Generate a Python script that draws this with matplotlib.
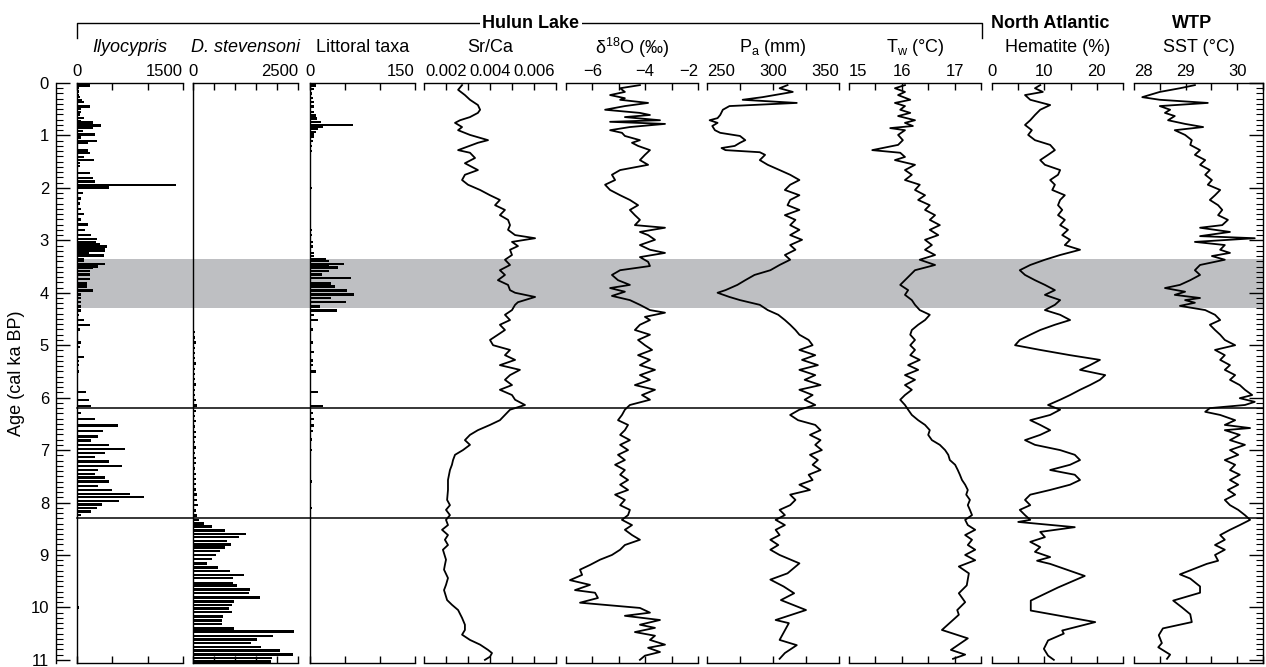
import numpy as np
import matplotlib
matplotlib.use("Agg")
import matplotlib.pyplot as plt
from matplotlib.lines import Line2D

plt.rcParams['font.family'] = ['Liberation Sans', 'DejaVu Sans']
plt.rcParams['mathtext.fontset'] = 'custom'
plt.rcParams['mathtext.rm'] = 'Liberation Sans'
plt.rcParams['mathtext.it'] = 'Liberation Sans:italic'

# ---------------- data ----------------
# ostracod counts (bars)
ily_age = [0.05, 0.10, 0.16, 0.23, 0.27, 0.32, 0.36, 0.45, 0.50, 0.55, 0.60, 0.67, 0.72, 0.75,
           0.81, 0.85, 0.92, 0.98, 1.04, 1.10, 1.15, 1.29, 1.33, 1.41, 1.47, 1.53, 1.58, 1.66,
           1.72, 1.81, 1.88, 1.94, 1.99, 2.10, 2.20, 2.30, 2.40, 2.50, 2.60, 2.70, 2.80, 2.90,
           2.97, 3.03, 3.07, 3.12, 3.17, 3.20, 3.23, 3.29, 3.36, 3.39, 3.45, 3.50, 3.53, 3.58,
           3.65, 3.74, 3.82, 3.88, 3.96, 4.03, 4.10, 4.18, 4.26, 4.34, 4.42, 4.52, 4.61, 4.70,
           4.95, 5.03, 5.22, 5.30, 5.38, 5.50, 5.89, 6.04, 6.16, 6.29, 6.41, 6.53, 6.63, 6.74,
           6.82, 6.90, 6.98, 7.05, 7.13, 7.22, 7.30, 7.38, 7.45, 7.52, 7.60, 7.68, 7.76, 7.84,
           7.90, 7.97, 8.04, 8.10, 8.17, 8.24, 9.20, 10.00, 10.10, 10.50]
ily_val = [180, 25, 25, 25, 40, 70, 100, 180, 60, 60, 40, 100, 60, 230,
           340, 230, 80, 250, 60, 290, 160, 160, 180, 100, 240, 40, 40, 20,
           180, 220, 250, 1400, 450, 80, 50, 40, 60, 100, 60, 150, 110, 200,
           280, 270, 320, 420, 390, 390, 170, 375, 100, 100, 390, 300, 220, 180,
           180, 180, 140, 140, 230, 60, 60, 60, 50, 60, 30, 100, 180, 40,
           60, 40, 100, 30, 30, 30, 130, 170, 200, 60, 260, 580, 370, 300,
           200, 450, 680, 400, 250, 450, 630, 300, 250, 400, 450, 300, 500, 750,
           950, 600, 350, 280, 200, 60, 20, 25, 20, 20]

dst_age = [4.75, 4.85, 4.95, 5.05, 5.15, 5.25, 5.35, 5.45, 5.55, 5.65, 5.75, 5.85, 5.95, 6.05,
           6.15, 6.25, 6.35, 6.45, 6.55, 6.65, 6.75, 6.85, 6.95, 7.05, 7.15, 7.25, 7.35, 7.45,
           7.55, 7.65, 7.75, 7.85, 7.95, 8.05, 8.15, 8.25,
           8.33, 8.40, 8.46, 8.53, 8.60, 8.66, 8.73, 8.80, 8.86, 8.93, 9.00, 9.08, 9.16, 9.24,
           9.30, 9.38, 9.44, 9.53, 9.58, 9.66, 9.73, 9.81, 9.89, 9.96, 10.02, 10.09, 10.17,
           10.25, 10.32, 10.40, 10.46, 10.54, 10.61, 10.68, 10.76, 10.82, 10.90, 10.97, 11.03]
dst_val = [50, 40, 60, 40, 50, 40, 60, 40, 50, 40, 80, 50, 40, 60,
           90, 70, 50, 60, 50, 70, 60, 50, 60, 50, 70, 60, 50, 70,
           60, 80, 70, 100, 90, 120, 80, 100,
           150, 250, 450, 750, 1250, 1100, 800, 900, 750, 650, 550, 450, 330, 600,
           880, 1210, 950, 950, 1050, 1360, 1330, 1600, 980, 930, 860, 930, 710,
           690, 690, 980, 2400, 1900, 1520, 1380, 1620, 2070, 2380, 1880, 1860]

lit_age = [0.05, 0.12, 0.20, 0.28, 0.36, 0.45, 0.55, 0.62, 0.68, 0.74, 0.80, 0.84, 0.88, 0.93,
           0.98, 1.03, 1.10, 1.20, 1.30, 1.50, 2.00, 2.50, 2.80, 2.90, 3.03, 3.12, 3.24, 3.30,
           3.36, 3.40, 3.45, 3.48, 3.52, 3.58, 3.65, 3.72, 3.82, 3.88, 3.96, 4.03, 4.10, 4.18,
           4.26, 4.34, 4.42, 4.52, 4.70, 4.95, 5.13, 5.29, 5.38, 5.50, 5.89, 6.16, 6.29, 6.41,
           6.53, 6.63, 6.80, 7.00, 7.30, 7.60, 7.90, 8.10]
lit_val = [8, 5, 3, 4, 5, 5, 6, 8, 10, 15, 62, 18, 12, 8,
           6, 5, 4, 3, 3, 2, 3, 2, 3, 3, 4, 4, 6, 6,
           23, 27, 49, 27, 40, 27, 17, 58, 30, 36, 53, 63, 30, 51,
           14, 39, 6, 11, 4, 4, 6, 4, 4, 8, 11, 19, 4, 5,
           5, 4, 3, 3, 2, 3, 2, 3]

# Sr/Ca (x1e-3)
sr_age = [0.04, 0.13, 0.23, 0.32, 0.42, 0.51, 0.57, 0.65, 0.71, 0.76, 0.84, 0.90, 0.99, 1.09,
          1.14, 1.28, 1.33, 1.43, 1.53, 1.66, 1.75, 1.85, 1.94, 2.04, 2.14, 2.23, 2.33, 2.42,
          2.52, 2.61, 2.71, 2.80, 2.90, 2.96, 3.03, 3.11, 3.18, 3.28, 3.37, 3.47, 3.57, 3.66,
          3.76, 3.85, 3.95, 4.00, 4.08, 4.18, 4.23, 4.33, 4.42, 4.52, 4.61, 4.71, 4.80, 4.90,
          5.00, 5.09, 5.19, 5.28, 5.38, 5.47, 5.57, 5.66, 5.76, 5.85, 5.95, 6.04, 6.14, 6.23,
          6.33, 6.43, 6.52, 6.62, 6.71, 6.81, 6.90, 7.00, 7.09, 7.19, 7.28, 7.38, 7.57, 7.76,
          7.95, 8.05, 8.14, 8.24, 8.33, 8.43, 8.52, 8.62, 8.71, 8.81, 8.90, 9.09, 9.19, 9.28,
          9.44, 9.57, 9.67, 9.86, 9.95, 10.05, 10.20, 10.33, 10.43, 10.52, 10.62, 10.71, 10.81,
          10.87, 10.94, 11.00]
sr_val = [2.73, 2.55, 2.86, 3.09, 3.45, 3.55, 3.45, 3.09, 2.64, 2.41, 2.73, 2.55, 3.09, 3.91,
          3.45, 2.55, 3.09, 3.32, 2.86, 3.45, 2.86, 2.73, 3.00, 3.55, 4.00, 4.45, 4.23, 4.68,
          4.45, 4.82, 4.91, 4.82, 5.14, 6.05, 5.00, 5.27, 4.91, 5.00, 4.68, 4.91, 4.45, 4.68,
          4.36, 4.82, 4.91, 5.14, 6.05, 5.27, 5.14, 5.00, 4.68, 4.91, 4.45, 4.68, 4.36, 4.00,
          4.14, 4.91, 4.68, 5.14, 4.45, 5.36, 4.91, 4.68, 5.00, 4.45, 5.00, 5.14, 5.59, 4.91,
          4.68, 4.45, 4.00, 3.45, 3.09, 2.86, 3.09, 2.77, 2.41, 2.32, 2.27, 2.18, 2.09, 2.09,
          2.05, 2.18, 2.00, 2.18, 2.00, 2.09, 1.82, 2.09, 1.95, 2.09, 1.86, 2.00, 1.95, 1.91,
          2.09, 2.00, 1.91, 2.05, 2.27, 2.55, 2.73, 2.86, 2.86, 2.73, 3.09, 3.55, 3.91,
          4.09, 4.00, 3.77]

# d18O (permil)
d18_age = [0.04, 0.10, 0.17, 0.23, 0.29, 0.32, 0.38, 0.44, 0.51, 0.57, 0.61, 0.65, 0.71, 0.74,
           0.78, 0.84, 0.90, 0.95, 1.01, 1.09, 1.14, 1.20, 1.28, 1.37, 1.47, 1.56, 1.66, 1.75,
           1.85, 1.94, 2.04, 2.14, 2.23, 2.33, 2.42, 2.52, 2.61, 2.71, 2.76, 2.84, 2.90, 2.99,
           3.09, 3.18, 3.24, 3.32, 3.41, 3.49, 3.57, 3.66, 3.76, 3.85, 3.91, 3.98, 4.06, 4.14,
           4.23, 4.33, 4.38, 4.46, 4.52, 4.61, 4.71, 4.80, 4.90, 5.00, 5.09, 5.19, 5.28, 5.38,
           5.47, 5.57, 5.66, 5.76, 5.85, 5.95, 6.04, 6.14, 6.23, 6.33, 6.43, 6.52, 6.62, 6.71,
           6.81, 6.90, 7.00, 7.09, 7.19, 7.28, 7.38, 7.47, 7.57, 7.66, 7.76, 7.85, 7.95, 8.05,
           8.14, 8.24, 8.33, 8.43, 8.52, 8.62, 8.71, 8.81, 8.90, 9.00, 9.09, 9.19, 9.28, 9.38,
           9.48, 9.57, 9.67, 9.72, 9.82, 9.91, 10.01, 10.10, 10.16, 10.24, 10.33, 10.39, 10.47,
           10.54, 10.62, 10.71, 10.77, 10.85, 10.92, 11.00]
d18_val = [-4.20, -4.95, -4.77, -5.33, -4.77, -4.95, -3.89, -4.77, -5.52, -4.20, -3.82, -4.77, -3.44, -5.33,
           -3.25, -4.58, -5.33, -4.88, -4.77, -4.20, -4.50, -4.27, -3.82, -4.01, -4.20, -3.89, -4.95, -5.26,
           -5.14, -5.52, -5.33, -4.95, -4.58, -4.27, -4.58, -4.39, -4.20, -4.39, -3.25, -4.20, -3.89, -3.63,
           -4.20, -3.82, -3.25, -4.20, -3.89, -3.82, -4.95, -5.26, -5.03, -4.58, -5.33, -4.77, -5.26, -4.58,
           -4.20, -3.82, -3.25, -4.01, -3.82, -4.20, -4.39, -3.82, -4.27, -4.01, -3.74, -4.27, -3.82, -4.20,
           -3.63, -4.20, -3.82, -4.39, -3.63, -4.12, -3.82, -4.58, -4.77, -4.88, -5.03, -4.65, -4.77, -4.95,
           -4.58, -4.95, -4.65, -5.03, -4.77, -5.14, -4.77, -4.95, -4.65, -4.95, -4.65, -5.14, -4.77, -4.95,
           -4.58, -4.65, -4.88, -4.50, -4.77, -4.50, -4.20, -4.77, -4.95, -5.26, -5.71, -6.09, -6.47, -6.39,
           -6.85, -6.09, -6.66, -5.90, -5.79, -6.47, -4.20, -3.82, -4.77, -3.44, -4.20, -3.63, -4.39,
           -3.63, -3.82, -3.25, -3.89, -3.44, -4.01, -4.20]

# annual precipitation (mm)
pa_age = [0.04, 0.10, 0.17, 0.27, 0.32, 0.38, 0.44, 0.51, 0.61, 0.67, 0.71, 0.76, 0.82, 0.90,
          0.95, 1.01, 1.09, 1.14, 1.20, 1.24, 1.28, 1.32, 1.37, 1.47, 1.56, 1.66, 1.75, 1.85,
          1.94, 2.04, 2.14, 2.23, 2.33, 2.42, 2.52, 2.61, 2.71, 2.80, 2.90, 2.99, 3.09, 3.18,
          3.28, 3.37, 3.47, 3.57, 3.66, 3.76, 3.85, 3.95, 4.00, 4.08, 4.14, 4.23, 4.33, 4.42,
          4.52, 4.61, 4.71, 4.80, 4.90, 5.00, 5.09, 5.19, 5.28, 5.38, 5.47, 5.57, 5.66, 5.76,
          5.85, 5.95, 6.04, 6.14, 6.23, 6.33, 6.43, 6.52, 6.62, 6.71, 6.81, 6.90, 7.00, 7.09,
          7.19, 7.28, 7.38, 7.47, 7.57, 7.66, 7.76, 7.85, 7.95, 8.05, 8.14, 8.24, 8.33, 8.43,
          8.52, 8.62, 8.71, 8.81, 8.90, 9.00, 9.16, 9.35, 9.47, 9.60, 9.73, 9.86, 10.05, 10.24,
          10.30, 10.62, 10.72, 10.87, 10.98]
pa_val = [311, 305, 315, 292, 277, 318, 267, 262, 260, 258, 252, 258, 254, 256,
          260, 275, 279, 275, 271, 261, 264, 290, 294, 290, 296, 305, 313, 320,
          313, 309, 320, 313, 311, 320, 309, 317, 313, 320, 313, 322, 313, 317,
          309, 313, 305, 298, 286, 279, 273, 264, 258, 267, 275, 290, 296, 304,
          309, 313, 317, 320, 327, 330, 320, 332, 322, 334, 320, 332, 324, 336,
          320, 330, 324, 332, 320, 313, 319, 332, 336, 328, 336, 332, 337, 328,
          334, 330, 336, 327, 330, 320, 328, 313, 317, 313, 305, 309, 302, 309,
          302, 305, 298, 304, 298, 305, 320, 311, 298, 308, 316, 306, 325, 302,
          312, 305, 318, 309, 305]

# lake water temperature (deg C)
tw_age = [0.04, 0.10, 0.17, 0.23, 0.32, 0.38, 0.44, 0.51, 0.57, 0.63, 0.71, 0.76, 0.82, 0.86,
          0.90, 0.99, 1.09, 1.18, 1.28, 1.33, 1.41, 1.47, 1.56, 1.66, 1.75, 1.85, 1.94, 2.04,
          2.14, 2.23, 2.33, 2.42, 2.52, 2.61, 2.71, 2.80, 2.90, 2.99, 3.09, 3.18, 3.28, 3.37,
          3.47, 3.57, 3.66, 3.76, 3.85, 3.95, 4.04, 4.14, 4.23, 4.33, 4.42, 4.52, 4.61, 4.71,
          4.80, 4.90, 5.00, 5.09, 5.19, 5.28, 5.38, 5.47, 5.57, 5.66, 5.76, 5.85, 5.95, 6.04,
          6.14, 6.23, 6.33, 6.43, 6.52, 6.62, 6.71, 6.81, 6.90, 7.00, 7.09, 7.19, 7.28, 7.38,
          7.47, 7.57, 7.66, 7.76, 7.85, 7.95, 8.05, 8.14, 8.24, 8.33, 8.43, 8.52, 8.62, 8.71,
          8.81, 8.90, 9.00, 9.10, 9.22, 9.35, 9.58, 9.73, 9.90, 10.05, 10.14, 10.43, 10.59,
          10.81, 10.90, 10.98]
tw_val = [16.06, 15.87, 16.06, 15.93, 16.16, 15.87, 16.06, 15.97, 16.16, 15.93, 16.25, 16.06, 16.21, 15.78,
          16.06, 15.93, 16.02, 15.93, 15.44, 15.97, 16.06, 15.87, 16.25, 16.06, 16.19, 16.06, 16.34, 16.25,
          16.44, 16.31, 16.53, 16.44, 16.63, 16.53, 16.72, 16.53, 16.69, 16.44, 16.57, 16.44, 16.63, 16.34,
          16.63, 16.25, 16.16, 16.06, 15.97, 16.12, 16.06, 16.19, 16.25, 16.34, 16.53, 16.44, 16.31, 16.19,
          16.16, 16.25, 16.16, 16.25, 16.16, 16.34, 16.12, 16.31, 16.06, 16.25, 16.06, 16.19, 16.06, 15.97,
          16.06, 16.12, 16.19, 16.31, 16.44, 16.53, 16.50, 16.57, 16.72, 16.82, 16.88, 16.91, 17.01, 17.06,
          17.10, 17.14, 17.20, 17.25, 17.22, 17.29, 17.25, 17.29, 17.33, 17.20, 17.25, 17.39, 17.20, 17.33,
          17.25, 17.39, 17.20, 17.39, 17.08, 17.27, 17.23, 17.08, 17.20, 17.05, 17.08, 16.76, 17.25,
          16.93, 17.20, 16.97]

# hematite-stained grains (%)
hem_age = [0.04, 0.10, 0.17, 0.23, 0.32, 0.42, 0.51, 0.61, 0.71, 0.80, 0.90, 0.99, 1.09, 1.18,
           1.28, 1.37, 1.47, 1.56, 1.66, 1.75, 1.85, 1.94, 2.04, 2.14, 2.23, 2.33, 2.42, 2.52,
           2.61, 2.71, 2.80, 2.90, 2.99, 3.09, 3.18, 3.28, 3.37, 3.47, 3.57, 3.66, 3.76, 3.85,
           3.95, 4.04, 4.14, 4.23, 4.33, 4.42, 4.52, 4.61, 4.71, 4.80, 4.90, 5.00, 5.09, 5.19,
           5.28, 5.38, 5.47, 5.57, 5.66, 5.76, 5.85, 5.95, 6.04, 6.14, 6.23, 6.33, 6.43, 6.52,
           6.62, 6.71, 6.81, 6.90, 7.00, 7.09, 7.19, 7.28, 7.38, 7.47, 7.57, 7.66, 7.76, 7.85,
           7.95, 8.05, 8.14, 8.24, 8.33, 8.37, 8.47, 8.56, 8.66, 8.75, 8.85, 8.94, 9.04, 9.11,
           9.17, 9.40, 9.62, 9.87, 10.06, 10.28, 10.44, 10.50, 10.63, 10.79, 10.92, 11.00]
hem_val = [9.2, 8.2, 9.7, 6.3, 7.3, 11.1, 9.2, 8.2, 7.3, 6.3, 7.6, 6.9, 8.2, 11.1,
           12.0, 10.7, 9.2, 10.1, 13.0, 12.6, 11.1, 12.0, 11.5, 13.9, 13.0, 12.6, 13.4, 12.6,
           13.9, 13.0, 14.5, 13.4, 14.9, 13.9, 16.8, 13.0, 10.1, 7.3, 5.3, 6.3, 8.2, 10.1,
           12.0, 10.1, 13.0, 12.0, 10.1, 13.0, 14.9, 12.0, 9.2, 7.3, 5.3, 4.4, 9.2, 14.9,
           20.6, 18.7, 16.8, 21.6, 20.6, 18.7, 16.8, 14.9, 13.0, 10.7, 13.0, 11.1, 7.3, 9.2,
           11.1, 9.2, 6.3, 8.2, 13.0, 15.8, 16.8, 14.9, 11.1, 15.8, 16.8, 14.9, 11.1, 7.3,
           6.3, 7.3, 5.3, 6.3, 7.3, 5.0, 15.8, 9.2, 10.1, 7.3, 9.2, 8.2, 11.1, 8.6,
           11.1, 17.7, 12.6, 7.4, 7.4, 19.7, 13.4, 13.7, 10.7, 9.9, 10.7, 11.8]

# WTP sea surface temperature (deg C)
sst_age = [0.04, 0.10, 0.17, 0.27, 0.32, 0.38, 0.44, 0.51, 0.57, 0.63, 0.71, 0.78, 0.84, 0.90,
           0.99, 1.09, 1.18, 1.28, 1.37, 1.47, 1.56, 1.66, 1.75, 1.85, 1.94, 2.04, 2.14, 2.23,
           2.33, 2.42, 2.52, 2.61, 2.71, 2.76, 2.84, 2.92, 2.96, 3.03, 3.09, 3.18, 3.24, 3.30,
           3.37, 3.47, 3.57, 3.66, 3.76, 3.85, 3.91, 3.98, 4.04, 4.10, 4.14, 4.19, 4.25, 4.33,
           4.42, 4.52, 4.61, 4.71, 4.80, 4.90, 5.00, 5.09, 5.19, 5.28, 5.38, 5.47, 5.57, 5.66,
           5.76, 5.85, 5.95, 6.01, 6.08, 6.14, 6.20, 6.27, 6.33, 6.43, 6.52, 6.58, 6.62, 6.71,
           6.81, 6.90, 7.00, 7.09, 7.19, 7.28, 7.38, 7.47, 7.57, 7.66, 7.76, 7.85, 7.95, 8.05,
           8.14, 8.24, 8.33, 8.43, 8.52, 8.62, 8.71, 8.81, 8.90, 9.00, 9.11, 9.17, 9.37, 9.45,
           9.60, 9.72, 9.87, 10.00, 10.13, 10.28, 10.40, 10.53, 10.68, 10.76, 10.90, 10.98]
sst_val = [29.18, 28.89, 28.50, 28.16, 28.50, 29.43, 28.50, 28.70, 28.60, 28.79, 28.66, 28.99, 29.34, 28.79,
           28.99, 29.12, 29.09, 29.28, 29.18, 29.38, 29.28, 29.47, 29.38, 29.51, 29.43, 29.67, 29.57, 29.47,
           29.63, 29.71, 29.63, 29.82, 29.71, 29.28, 29.86, 29.28, 30.34, 29.18, 29.76, 29.67, 29.86, 29.51,
           29.76, 29.28, 29.18, 29.28, 29.09, 28.89, 28.60, 28.99, 28.79, 29.28, 28.99, 29.18, 28.89, 29.38,
           29.57, 29.67, 29.47, 29.57, 29.67, 29.76, 29.96, 29.57, 29.76, 29.67, 29.86, 29.76, 29.96, 29.86,
           30.05, 30.15, 30.29, 30.05, 30.34, 30.15, 29.47, 29.38, 29.67, 29.96, 29.76, 30.25, 29.76, 30.05,
           29.86, 30.15, 29.86, 30.02, 29.76, 29.96, 29.86, 30.05, 29.86, 30.02, 29.82, 29.96, 29.76, 29.86,
           30.02, 30.15, 30.25, 30.05, 29.86, 29.67, 29.76, 29.57, 29.76, 29.57, 29.63, 29.41, 28.89, 29.09,
           29.28, 29.28, 28.76, 28.93, 29.09, 29.12, 28.56, 28.48, 28.54, 28.47, 28.70, 28.64]

band = (3.35, 4.3)
events = [6.2, 8.3]

# ---------------- layout ----------------
W, H = 1266, 667
fig = plt.figure(figsize=(W / 100, H / 100), dpi=100)
TOP, BOT = 83, 663
YLIM = (11.06, 0)


def box(x0, x1):
    return [x0 / W, 1 - BOT / H, (x1 - x0) / W, (BOT - TOP) / H]


# base axis carrying the age scale, shading and event lines
ax0 = fig.add_axes(box(56, 1263))
ax0.set_ylim(*YLIM)
ax0.set_xlim(0, 1)
for s in ['top', 'bottom']:
    ax0.spines[s].set_visible(False)
for s in ['left', 'right']:
    ax0.spines[s].set_linewidth(1.0)
ax0.set_xticks([])
ax0.set_yticks(np.arange(0, 12, 1))
ax0.set_yticks(np.arange(0, 11.05, 0.1), minor=True)
ax0.tick_params(axis='y', which='both', direction='in', left=True, right=True,
                labelleft=True, labelright=False, labelsize=12, pad=5)
ax0.tick_params(axis='y', which='major', length=10, width=1)
ax0.tick_params(axis='y', which='minor', length=5, width=0.8)
ax0.set_ylabel('Age (cal ka BP)', fontsize=13, labelpad=4)
xstart = (77 - 56) / (1263 - 56)
ax0.axhspan(band[0], band[1], xmin=xstart, xmax=1, color='#bebfc2', lw=0, zorder=0)
for e in events:
    ax0.axhline(e, xmin=xstart, xmax=1, color='black', lw=1.1, zorder=1)

panels = [
    # x0, x1, xlim, ticks, labels, first ha, last ha, title, italic, left spine
    (77, 183, (0, 1500), [0, 500, 1000, 1500], ['0', '', '', '1500'], 'center', 'right',
     'Ilyocypris', True, True),
    (193, 298, (0, 2500), [0, 500, 1000, 1500, 2000, 2500], ['0', '', '', '', '', '2500'],
     'center', 'right', 'D. stevensoni', True, True),
    (310, 415, (0, 150), [0, 50, 100, 150], ['0', '', '', '150'], 'center', 'right',
     'Littoral taxa', False, True),
    (424, 556, (0.001, 0.007), [0.001, 0.002, 0.003, 0.004, 0.005, 0.006, 0.007],
     ['', '0.002', '', '0.004', '', '0.006', ''], 'center', 'center', 'Sr/Ca', False, False),
    (566, 698, (-7, -2), [-7, -6, -5, -4, -3, -2], ['', '\u22126', '', '\u22124', '', '\u22122'],
     'center', 'right', '\u03b4$^{18}$O (\u2030)', False, False),
    (707, 839, (250, 350), [250, 275, 300, 325, 350], ['250', '', '300', '', '350'],
     'left', 'right', 'P$_\\mathrm{a}$ (mm)', False, False),
    (849, 981, (15, 17.5), [15, 15.5, 16, 16.5, 17, 17.5], ['15', '', '16', '', '17', ''],
     'left', 'center', 'T$_\\mathrm{w}$ (\u00b0C)', False, False),
    (992, 1123, (0, 25), [0, 5, 10, 15, 20, 25], ['0', '', '10', '', '20', ''],
     'center', 'center', 'Hematite (%)', False, False),
    (1134, 1263, (28, 30.5), [28, 28.5, 29, 29.5, 30, 30.5], ['28', '', '29', '', '30', ''],
     'left', 'center', 'SST (\u00b0C)', False, False),
]

axes = []
for (x0, x1, xl, ticks, labs, ha0, ha1, title, ital, lsp) in panels:
    ax = fig.add_axes(box(x0, x1))
    ax.patch.set_alpha(0)
    ax.set_xlim(*xl)
    ax.set_ylim(*YLIM)
    ax.spines['right'].set_visible(False)
    ax.spines['left'].set_visible(lsp)
    for s in ['top', 'bottom', 'left']:
        ax.spines[s].set_linewidth(1.0)
    ax.set_yticks([])
    ax.set_xticks(ticks, labs)
    ax.tick_params(axis='x', which='major', top=True, bottom=True, labeltop=True,
                   labelbottom=False, direction='in', length=5, width=1, pad=3, labelsize=12)
    tl = ax.get_xticklabels()
    tl[0].set_ha(ha0)
    tl[-1].set_ha(ha1)
    fig.text((x0 + x1) / 2 / W, 1 - 48 / H, title, ha='center', va='center', fontsize=13,
             style='italic' if ital else 'normal')
    axes.append(ax)

# bars
axes[0].barh(ily_age, ily_val, height=0.045, color='black', lw=0)
axes[1].barh(dst_age, dst_val, height=0.045, color='black', lw=0)
axes[2].barh(lit_age, lit_val, height=0.045, color='black', lw=0)

# curves
lw = 1.3
axes[3].plot(np.array(sr_val) * 1e-3, sr_age, color='black', lw=lw)
axes[4].plot(d18_val, d18_age, color='black', lw=lw)
axes[5].plot(pa_val, pa_age, color='black', lw=lw)
axes[6].plot(tw_val, tw_age, color='black', lw=lw)
axes[7].plot(hem_val, hem_age, color='black', lw=lw)
axes[8].plot(sst_val, sst_age, color='black', lw=lw)

# headers
ytop, ydrop = 1 - 23 / H, 1 - 38 / H
fig.add_artist(Line2D([77 / W, 77 / W, 982 / W, 982 / W], [ydrop, ytop, ytop, ydrop],
                      color='black', lw=1.0))
fig.text(531 / W, ytop, 'Hulun Lake', ha='center', va='center', fontsize=13, weight='bold',
         bbox=dict(facecolor='white', edgecolor='none', pad=1.5))
fig.text(1050 / W, ytop, 'North Atlantic', ha='center', va='center', fontsize=13, weight='bold')
fig.text(1192 / W, ytop, 'WTP', ha='center', va='center', fontsize=13, weight='bold')

fig.savefig('out.png', dpi=100)
